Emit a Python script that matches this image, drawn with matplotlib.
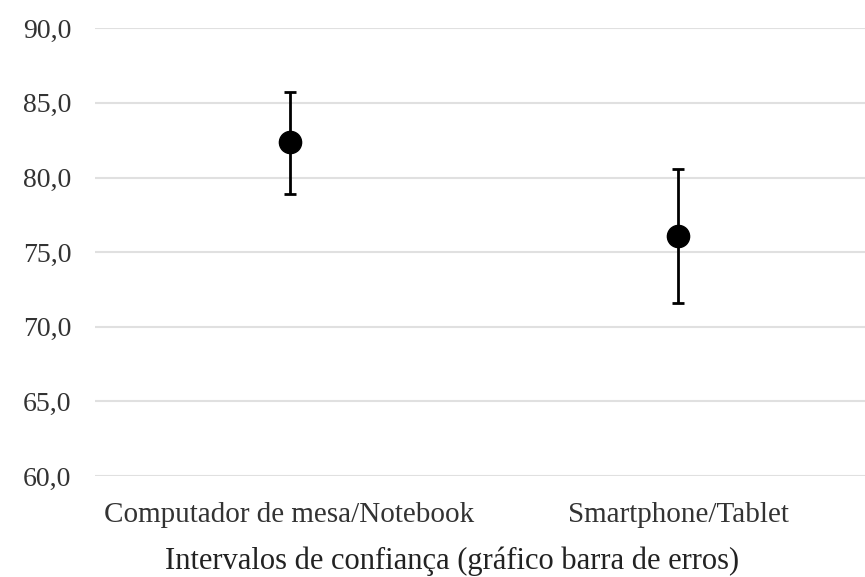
import matplotlib
matplotlib.use("Agg")
import matplotlib.pyplot as plt
from matplotlib.ticker import FuncFormatter

categories = ["Computador de mesa/Notebook", "Smartphone/Tablet"]
means = [82.35, 76.1]
lower = [78.9, 71.6]
upper = [85.7, 80.6]
yticks = [60, 65, 70, 75, 80, 85, 90]
xlabel = "Intervalos de confiança (gráfico barra de erros)"

plt.rcParams['font.family'] = ['Liberation Serif', 'DejaVu Serif']

fig = plt.figure(figsize=(8.65, 5.77), dpi=100)
ax = fig.add_axes([0.11, 0.175, 0.89, 0.776])

x = list(range(len(categories)))
yerr = [[m - l for m, l in zip(means, lower)], [u - m for m, u in zip(means, upper)]]
ax.errorbar(x, means, yerr=yerr, fmt='o', color='black', markersize=16,
            elinewidth=2, capsize=4.5, capthick=2, zorder=3)

ax.set_ylim(60, 90)
ax.set_xlim(-0.5, 1.48)
ax.set_yticks(yticks)
ax.yaxis.set_major_formatter(FuncFormatter(lambda v, p: f"{v:.1f}".replace('.', ',')))
ax.set_xticks(x)
ax.set_xticklabels(categories)
ax.grid(axis='y', color='#e0e0e0', linewidth=1.5)
ax.set_axisbelow(True)
for s in ax.spines.values():
    s.set_visible(False)
ax.tick_params(axis='both', length=0, colors='#333333')
ax.tick_params(axis='y', pad=17, labelsize=20)
ax.tick_params(axis='x', pad=19, labelsize=21)
ax.set_xlabel(xlabel, fontsize=22, color='#222222')
ax.xaxis.set_label_coords(0.464, -0.158)

fig.savefig("out.png", dpi=100)
